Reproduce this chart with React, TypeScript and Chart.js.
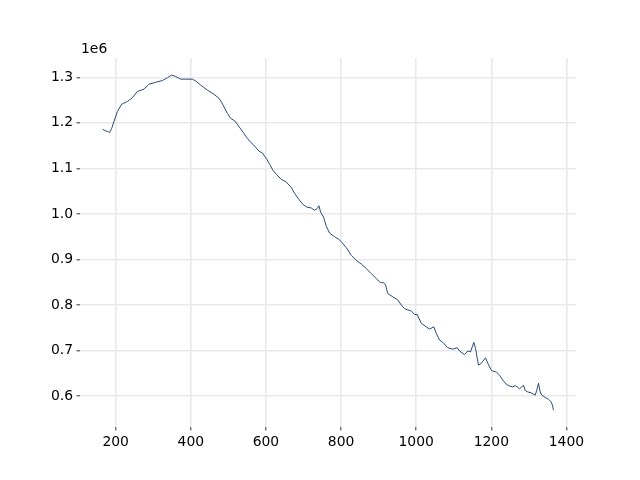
import React, { useEffect, useRef } from "react";
import { Chart, registerables } from "chart.js";

Chart.register(...registerables);

const xValues: number[] = [
  165, 171.5, 178, 184, 189.4, 195.5, 204.5, 216, 231, 244.4, 257.7, 275.3, 288.6, 306.4, 324.3, 337.6, 349, 359.6,
  373, 386.3, 404.1, 412.9, 426.2, 444, 461.6, 474.9, 482.1, 497.2, 506, 517.4, 528.1, 541.4, 550.4,
  556.6, 569.9, 581.3, 590.4, 601, 609.8, 618.6, 627.6, 640.9, 654.2, 667.5, 676.3, 687.7, 698.4, 709, 720.7,
  729.5, 736.7, 741, 745.5, 753.4, 760.6, 769.4, 782.7, 794.2,
  800.6, 813.9, 827.2, 840.5, 853.8, 867.1, 880.4, 893.7, 905.1, 913.1, 918.4, 924.5, 937.8,
  951.2, 960.2, 969, 977.8, 986.8, 995.6, 1002.8, 1013.4, 1026.7, 1035.5, 1046.9, 1053.3, 1062.1, 1070.9,
  1084.2, 1097.5, 1109.2, 1115.3, 1128.6, 1137.4, 1144.6, 1153.4, 1157.9, 1162.4, 1165.9, 1172, 1178, 1184.5, 1190.6,
  1199.6, 1203.8, 1213, 1221.7, 1230.5, 1239.6, 1248.4, 1257.1, 1263.5, 1268.9, 1275, 1281.1, 1285.6, 1290.2,
  1297.1, 1306.1, 1316.8, 1321, 1325.5, 1330, 1334.3, 1343.3, 1352.1, 1359.3, 1363.3, 1365.4,
];

const yValues: number[] = [
  1.186, 1.183, 1.181, 1.179, 1.188, 1.203, 1.225, 1.241, 1.247, 1.255, 1.269, 1.274, 1.285, 1.289, 1.293, 1.299, 1.305, 1.302,
  1.296, 1.296, 1.296, 1.292, 1.283, 1.272, 1.263, 1.254, 1.245, 1.221, 1.21, 1.204, 1.192, 1.177, 1.166,
  1.16, 1.149, 1.138, 1.134, 1.122, 1.109, 1.096, 1.087, 1.076, 1.07, 1.058, 1.045, 1.032, 1.021, 1.015, 1.013,
  1.008, 1.012, 1.018, 1.004, 0.993, 0.973, 0.958, 0.95, 0.944,
  0.939, 0.926, 0.909, 0.898, 0.89, 0.88, 0.869, 0.858, 0.849, 0.849, 0.844, 0.825, 0.818,
  0.811, 0.8, 0.792, 0.789, 0.787, 0.779, 0.779, 0.76, 0.752, 0.747, 0.752, 0.738, 0.723, 0.718,
  0.706, 0.703, 0.706, 0.699, 0.691, 0.699, 0.697, 0.718, 0.705, 0.683, 0.668, 0.671, 0.677, 0.684, 0.672,
  0.657, 0.655, 0.653, 0.646, 0.635, 0.626, 0.622, 0.62, 0.623, 0.62, 0.616, 0.62, 0.624, 0.612,
  0.609, 0.607, 0.602, 0.613, 0.628, 0.609, 0.602, 0.597, 0.593, 0.587, 0.578, 0.569,
];

const xTicks: number[] = [200, 400, 600, 800, 1000, 1200, 1400];
const yTicks: number[] = [0.6, 0.7, 0.8, 0.9, 1.0, 1.1, 1.2, 1.3];
const yScaleFactor = 1e6;
const offsetLabel = "1e6";

const FONT = "DejaVu Sans";

export default function App() {
  const canvasRef = useRef<HTMLCanvasElement | null>(null);

  useEffect(() => {
    const canvas = canvasRef.current;
    if (!canvas) return;
    const data = xValues.map((x, i) => ({ x, y: yValues[i] * yScaleFactor }));

    const offsetTextPlugin = {
      id: "offsetText",
      afterDraw(chart: any) {
        const ctx = chart.ctx;
        ctx.save();
        ctx.font = `13.9px "${FONT}"`;
        ctx.fillStyle = "#000";
        ctx.textAlign = "left";
        ctx.textBaseline = "alphabetic";
        ctx.fillText(offsetLabel, chart.chartArea.left + 1, 53);
        ctx.restore();
      },
    };

    const chart = new Chart(canvas, {
      type: "line",
      data: {
        datasets: [
          {
            data,
            borderColor: "#274b78",
            borderWidth: 1,
            pointRadius: 0,
            tension: 0,
            fill: false,
          },
        ],
      },
      options: {
        animation: false,
        responsive: false,
        maintainAspectRatio: false,
        layout: { padding: { top: 58, right: 64, left: 0, bottom: 0 } },
        plugins: { legend: { display: false }, tooltip: { enabled: false } },
        scales: {
          x: {
            type: "linear",
            min: 105,
            max: 1425.4,
            afterFit: (scale: any) => {
              scale.height = 53;
            },
            afterBuildTicks: (scale: any) => {
              scale.ticks = xTicks.map((v) => ({ value: v }));
            },
            border: { display: false },
            grid: {
              color: "#e9e9e9",
              lineWidth: 1.6,
              drawTicks: true,
              tickLength: 3.5,
              tickColor: "#000",
              tickWidth: 0.8,
            },
            ticks: {
              color: "#000",
              padding: 3.5,
              maxRotation: 0,
              autoSkip: false,
              font: { family: FONT, size: 13.9 },
              callback: (v: any) => String(v),
            },
          },
          y: {
            type: "linear",
            min: 532000,
            max: 1342500,
            afterFit: (scale: any) => {
              scale.width = 80;
            },
            afterBuildTicks: (scale: any) => {
              scale.ticks = yTicks.map((v) => ({ value: v * yScaleFactor }));
            },
            border: { display: false },
            grid: {
              color: "#e9e9e9",
              lineWidth: 1.6,
              drawTicks: true,
              tickLength: 3.5,
              tickColor: "#000",
              tickWidth: 0.8,
            },
            ticks: {
              color: "#000",
              padding: 3.5,
              autoSkip: false,
              font: { family: FONT, size: 13.9 },
              callback: (v: any) => (Number(v) / yScaleFactor).toFixed(1),
            },
          },
        },
      },
      plugins: [offsetTextPlugin],
    } as any);

    return () => {
      chart.destroy();
    };
  }, []);

  return (
    <div style={{ position: "absolute", left: 0, top: 0, width: 640, height: 480, background: "#fff" }}>
      <canvas ref={canvasRef} width={640} height={480} style={{ display: "block", width: 640, height: 480 }} />
    </div>
  );
}
